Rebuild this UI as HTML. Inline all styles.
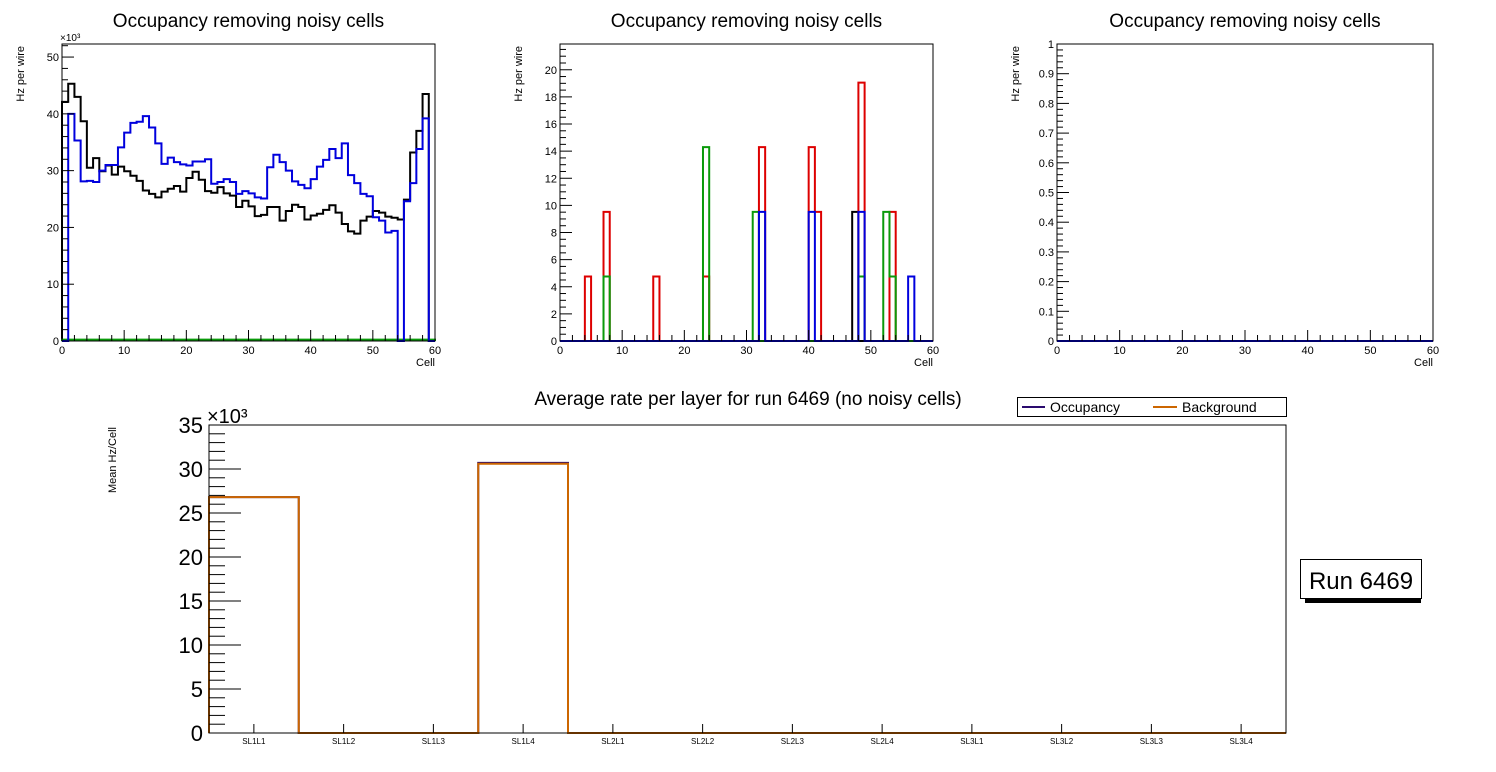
<!DOCTYPE html>
<html><head><meta charset="utf-8"><style>
html,body{margin:0;padding:0;background:#fff;}
svg{display:block;font-family:"Liberation Sans",sans-serif;}
</style></head><body>
<svg id="c" width="1496" height="772" viewBox="0 0 1496 772" xmlns="http://www.w3.org/2000/svg"></svg>
<script>
// ---- Panel 1 data (x10^3 Hz per wire) ----
const p1Black = [42.1,45.3,43,38.7,30.5,32.2,29.9,30.9,29.3,30.7,29.9,29.1,28.2,26.5,25.9,25.3,26.3,26.8,27.3,26.3,28.7,29.8,28.4,26.4,26.1,27.1,26,25.6,23.6,24.7,23.7,22,22.2,23.6,23.6,21.2,22.9,24,23.6,21.4,22.1,22.4,23.1,23.9,22.6,20.6,19.3,18.9,21.2,21.9,22.9,22.6,21.9,21.7,21.4,24.9,33.2,37,43.5,0];
const p1Blue = [0,40,35.3,28.1,28.2,28,30,31,31,34.1,36.7,38.4,38.6,39.6,37.6,34.8,31.2,32.3,31.5,31.1,30.9,31.6,31.6,32,27.7,28,28.5,28,25.9,26.4,26,25.3,25.1,30.6,32.8,31.5,30,28.1,27.5,26.9,28.5,30.7,31.9,33.8,32.2,34.8,29.2,27.8,25.9,25.5,21.8,21.2,19.1,19.4,0,24.6,27.8,33.8,39.2,0];
const p1Green = new Array(60).fill(0.25);
// ---- Panel 2 data (Hz per wire): [bin, value] ----
const p2Black = [[47,9.52]];
const p2Red = [[4,4.76],[7,9.52],[15,4.76],[23,4.76],[32,14.3],[40,14.3],[41,9.52],[48,19.05],[53,9.52]];
const p2Green = [[7,4.76],[23,14.3],[31,9.52],[48,4.76],[52,9.52],[53,4.76]];
const p2Blue = [[32,9.52],[40,9.52],[48,9.52],[56,4.76]];
// ---- Panel 3 data ----
const p3Blue = new Array(60).fill(0);
// ---- Bottom panel ----
const layers = ["SL1L1","SL1L2","SL1L3","SL1L4","SL2L1","SL2L2","SL2L3","SL2L4","SL3L1","SL3L2","SL3L3","SL3L4"];
const occVals = [26.8,0,0,30.7,0,0,0,0,0,0,0,0];
const bkgVals = [26.8,0,0,30.6,0,0,0,0,0,0,0,0];
const p1Ticks = [0,10,20,30,40,50];
const p2Ticks = [0,2,4,6,8,10,12,14,16,18,20];
const p3Ticks = [0,0.1,0.2,0.3,0.4,0.5,0.6,0.7,0.8,0.9,1];
const xTicks = [0,10,20,30,40,50,60];
const bTicks = [0,5,10,15,20,25,30,35];

const NS="http://www.w3.org/2000/svg";
const svg=document.getElementById('c');
function mk(tag,at,parent){const e=document.createElementNS(NS,tag);for(const k in at)e.setAttribute(k,at[k]);(parent||svg).appendChild(e);return e;}
function txt(s,at,name,parent){const e=mk('text',at,parent);e.textContent=s;return e;}

function histPath(vals,X,Y,n){let d='M'+X(0)+','+Y(0);for(let i=0;i<n;i++){const v=vals[i];d+=' L'+X(i)+','+Y(v)+' L'+X(i+1)+','+Y(v);}d+=' L'+X(n)+','+Y(0);return d;}
function sparse(pairs,n){const a=new Array(n).fill(0);pairs.forEach(p=>{a[p[0]]=p[1];});return a;}

function panel(o){
  const g=mk('g',{});
  
  
  const X=v=>o.x0+(o.x1-o.x0)*v/60, Y=v=>o.y1-(o.y1-o.y0)*v/o.ymax;
  txt('Occupancy removing noisy cells',{x:(o.x0+o.x1)/2,y:27,'font-size':19,'text-anchor':'middle'},'panel-title',g);
  txt('Hz per wire',{x:0,y:0,'font-size':11,'text-anchor':'end',transform:`translate(${o.x0-38},${o.y0+2}) rotate(-90)`},'y-axis-title',g);
  txt('Cell',{x:o.x1,y:366,'font-size':11,'text-anchor':'end'},'x-axis-title',g);
  const Xb=i=>o.x0+(o.x1-o.x0)*i/60;
  o.series.forEach(s=>{
    const p=mk('path',{d:histPath(s.v,Xb,Y,60),fill:'none',stroke:s.c,'stroke-width':2},g);
    
    
  });
  const fr=mk('rect',{x:o.x0,y:o.y0,width:o.x1-o.x0,height:o.y1-o.y0,fill:'none',stroke:'#000','stroke-width':1},g);
  
  
  for(let v=0;v<=60;v+=2){const big=v%10===0;mk('line',{x1:X(v),x2:X(v),y1:o.y1,y2:o.y1-(big?11:6),stroke:'#000'},g);}
  xTicks.forEach(v=>txt(String(v),{x:X(v),y:o.y1+13,'font-size':11,'text-anchor':'middle'},'x-tick-label',g));
  for(let v=0;v<=o.ymax+1e-9;v+=o.minor){const big=Math.abs(v/o.major-Math.round(v/o.major))<1e-6;mk('line',{x1:o.x0,x2:o.x0+(big?12:6),y1:Y(v),y2:Y(v),stroke:'#000'},g);}
  o.ticks.forEach(v=>txt(String(v),{x:o.x0-3,y:Y(v)+4,'font-size':11,'text-anchor':'end'},'y-tick-label',g));
  if(o.exp) txt('×10³',{x:o.x0-2,y:o.y0-3,'font-size':10},'y-exponent',g);
}
panel({name:'panel-sl1',x0:62,x1:435,y0:44,y1:341,ymax:52.3,major:10,minor:2,ticks:p1Ticks,exp:true,
  series:[{v:p1Black,c:'#000',n:'series-black'},{v:p1Green,c:'#0a9a0a',n:'series-green'},{v:p1Blue,c:'#0000dd',n:'series-blue'}]});
panel({name:'panel-sl2',x0:560,x1:933,y0:44,y1:341,ymax:21.9,major:2,minor:0.5,ticks:p2Ticks,
  series:[{v:sparse(p2Black,60),c:'#000',n:'series-black'},{v:sparse(p2Red,60),c:'#dd0000',n:'series-red'},{v:sparse(p2Green,60),c:'#0a9a0a',n:'series-green'},{v:sparse(p2Blue,60),c:'#0000dd',n:'series-blue'}]});
panel({name:'panel-sl3',x0:1057,x1:1433,y0:44,y1:341,ymax:1,major:0.1,minor:0.02,ticks:p3Ticks,
  series:[{v:p3Blue,c:'#0000dd',n:'series-blue'}]});

(function(){
  const x0=209,x1=1286,y0=425,y1=733,ymax=35,n=layers.length;
  const g=mk('g',{});
  
  
  const X=i=>x0+(x1-x0)*i/n, Y=v=>y1-(y1-y0)*v/ymax;
  txt('Average rate per layer for run 6469 (no noisy cells)',{x:748,y:405,'font-size':19,'text-anchor':'middle'},'bottom-title',g);
  txt('Mean Hz/Cell',{x:0,y:0,'font-size':11,'text-anchor':'end',transform:`translate(116,427) rotate(-90)`},'y-axis-title',g);
  const po=mk('path',{d:histPath(occVals,X,Y,n),fill:'none',stroke:'#2a0a6e','stroke-width':2},g);
  
  
  const pb=mk('path',{d:histPath(bkgVals,X,Y,n),fill:'none',stroke:'#cc6600','stroke-width':2},g);
  
  
  const fr=mk('rect',{x:x0,y:y0,width:x1-x0,height:y1-y0,fill:'none',stroke:'#000'},g);
  
  
  for(let v=0;v<=ymax;v++){const big=v%5===0;mk('line',{x1:x0,x2:x0+(big?32:16),y1:Y(v),y2:Y(v),stroke:'#000'},g);}
  bTicks.forEach(v=>txt(String(v),{x:x0-6,y:Y(v)+8,'font-size':22,'text-anchor':'end'},'y-tick-label',g));
  txt('×10³',{x:x0-2,y:y0-2,'font-size':20},'y-exponent',g);
  layers.forEach((l,i)=>{const cx=(X(i)+X(i+1))/2;mk('line',{x1:cx,x2:cx,y1:y1,y2:y1-9,stroke:'#000'},g);txt(l,{x:cx,y:y1+11,'font-size':8,'text-anchor':'middle'},'x-tick-label',g);});
  const lg=mk('g',{},g);
  
  
  mk('rect',{x:1017.5,y:397.5,width:269,height:19,fill:'#fff',stroke:'#000'},lg);
  mk('line',{x1:1022,x2:1045,y1:407,y2:407,stroke:'#2a0a6e','stroke-width':2},lg);
  txt('Occupancy',{x:1050,y:412,'font-size':14},'legend-entry-occupancy',lg);
  mk('line',{x1:1153,x2:1177,y1:407,y2:407,stroke:'#cc6600','stroke-width':2},lg);
  txt('Background',{x:1182,y:412,'font-size':14},'legend-entry-background',lg);
  const rb=mk('g',{},g);
  
  
  mk('rect',{x:1305,y:596,width:116,height:7,fill:'#000'},rb);
  mk('rect',{x:1300.5,y:559.5,width:121,height:39,fill:'#fff',stroke:'#000'},rb);
  txt('Run 6469',{x:1361,y:589,'font-size':24,'text-anchor':'middle'},'run-label-text',rb);
})();
</script>
</body></html>
